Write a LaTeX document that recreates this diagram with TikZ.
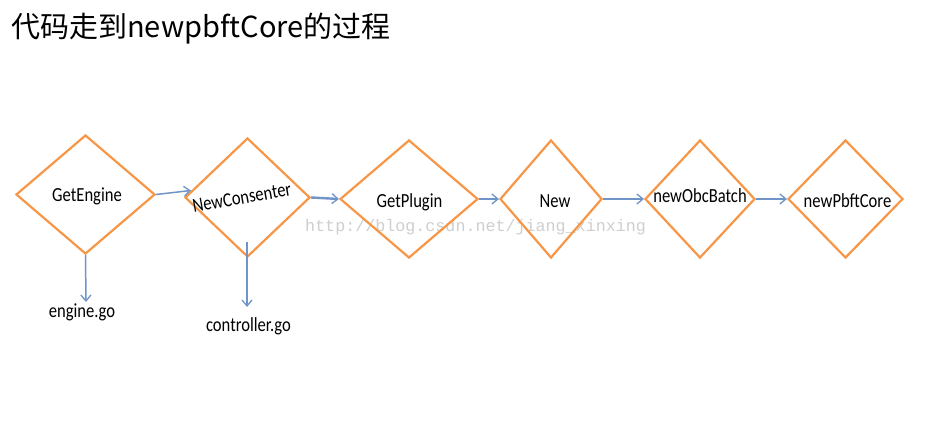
\documentclass[tikz,border=0pt]{standalone}
\usepackage{fontspec}
\usetikzlibrary{shapes.geometric,arrows.meta,calc}
\newfontfamily\labfont[FakeStretch=0.83]{Carlito}
\newfontfamily\cjkfont{Noto Sans CJK SC}
\newfontfamily\wmfont{Liberation Mono}
\definecolor{dorange}{HTML}{F79646}
\definecolor{darrow}{HTML}{6F94C8}
\definecolor{wmgray}{HTML}{CFCFCF}
\begin{document}
\begin{tikzpicture}[x=1pt,y=-1pt,
  dia/.style={diamond,draw=dorange,line width=2.2pt,inner sep=0pt,aspect=1},
  lbl/.style={anchor=base,inner sep=0pt,font=\labfont\fontsize{20}{22}\selectfont},
  arr/.style={draw=darrow,line width=1.5pt,-{Straight Barb[length=6pt,width=10pt,line width=1.3pt]}}]
\useasboundingbox[fill=white] (0,0) rectangle (936,435);
\node[anchor=base west,inner sep=0pt,font=\cjkfont\fontsize{29}{32}\selectfont] (title) at (11,38) {代码走到newpbftCore的过程};
\node[anchor=base west,inner sep=0pt,text=wmgray,font=\wmfont\fontsize{16.7}{18}\selectfont] (wm) at (305,232) {http://blog.csdn.net/jiang\_xinxing};
\node[dia,minimum width=139pt,minimum height=119pt] (d1) at (85.5,194.5) {};
\node[dia,minimum width=125pt,minimum height=119pt] (d2) at (247.5,197.5) {};
\node[dia,minimum width=138pt,minimum height=118pt] (d3) at (409,199) {};
\node[dia,minimum width=102pt,minimum height=118pt] (d4) at (551,199) {};
\node[dia,minimum width=110pt,minimum height=118pt] (d5) at (700,199) {};
\node[dia,minimum width=115pt,minimum height=118pt] (d6) at (845.5,199) {};
\node[lbl] (t1) at (87,202) {GetEngine};
\node[lbl,rotate=10] (t2) at (243,204) {NewConsenter};
\node[lbl] (t3) at (409.5,208) {GetPlugin};
\node[lbl] (t4) at (555,208) {New};
\node[lbl] (t5) at (700,203) {newObcBatch};
\node[lbl] (t6) at (847.5,208) {newPbftCore};
\node[lbl] (e1) at (82,317) {engine.go};
\node[lbl] (e2) at (248.5,331) {controller.go};
\coordinate (a1) at ($(d2.west)+(7,-7)$);
\coordinate (s2) at (247,242);
\coordinate (b1) at (86,302);
\coordinate (b2) at (247,307);
\draw[arr] (d1.east) -- (a1);
\draw[arr,line width=2.4pt] (d2.east) -- (d3.west);
\draw[arr] (d3.east) -- (d4.west);
\draw[arr] (d4.east) -- (d5.west);
\draw[arr] (d5.east) -- (d6.west);
\draw[arr] (d1.south) -- (b1);
\draw[arr] (s2) -- (b2);
\end{tikzpicture}
\end{document}
